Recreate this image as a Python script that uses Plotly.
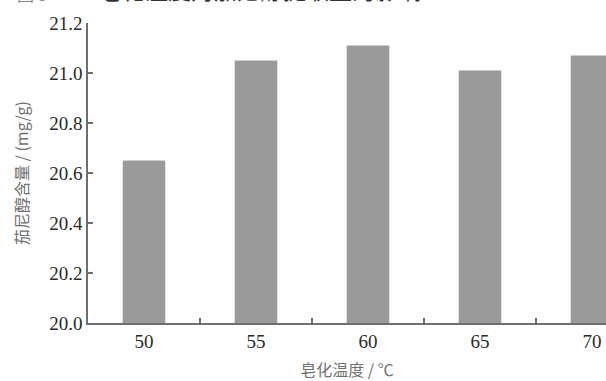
import plotly.graph_objects as go

categories = ["50", "55", "60", "65", "70"]
values = [20.65, 21.05, 21.11, 21.01, 21.07]
y_ticks = [20.0, 20.2, 20.4, 20.6, 20.8, 21.0, 21.2]
y_tick_labels = ["20.0", "20.2", "20.4", "20.6", "20.8", "21.0", "21.2"]

fig = go.Figure()
fig.add_trace(go.Bar(
    x=categories, y=values,
    marker=dict(color="#9a9a9a", line=dict(width=0)),
    width=0.38,
))

serif = "Liberation Serif, serif"
cjk = "Noto Sans CJK SC"

fig.update_layout(
    width=606, height=381,
    margin=dict(l=88, r=0, t=23, b=58),
    plot_bgcolor="white", paper_bgcolor="white",
    font=dict(family=serif),
    showlegend=False,
    xaxis=dict(
        type="category",
        range=[-0.5, 4.125],
        automargin=False,
        showline=True, linecolor="#6e6e6e", linewidth=1.5,
        ticks="inside", tickson="boundaries", ticklen=5, tickcolor="#6e6e6e", tickwidth=1.5,
        tickfont=dict(family=serif, size=19, color="#2a2a2a"),
        ticklabeloverflow="allow",
        showgrid=False, zeroline=False,
        title=dict(text="皂化温度 / ℃", font=dict(family=cjk, size=16, color="#707070"), standoff=15),
    ),
    yaxis=dict(
        range=[20.0, 21.2],
        automargin=False,
        tickvals=y_ticks, ticktext=y_tick_labels,
        showline=True, linecolor="#6e6e6e", linewidth=1.5,
        ticks="inside", ticklen=5, tickcolor="#6e6e6e", tickwidth=1.5,
        tickfont=dict(family=serif, size=19, color="#2a2a2a"),
        ticklabeloverflow="allow",
        showgrid=False, zeroline=False,
        title=dict(text="茄尼醇含量 / (mg/g)", font=dict(family=cjk, size=16, color="#707070"), standoff=17),
    ),
)

fig.add_annotation(
    text="皂化温度对茄尼醇提取量的影响",
    xref="paper", yref="paper", x=(97 - 88) / 518, y=1 + 15 / 300,
    xanchor="left", yanchor="bottom", showarrow=False,
    font=dict(family=cjk, size=23, color="#333333"),
)
fig.add_annotation(
    text="图 3",
    xref="paper", yref="paper", x=(15 - 88) / 518, y=1 + 15 / 300,
    xanchor="left", yanchor="bottom", showarrow=False,
    font=dict(family=cjk, size=17, color="#888888"),
)

fig.write_html("out.html", config={"displayModeBar": False},
               post_script="document.body.style.margin='0';")
